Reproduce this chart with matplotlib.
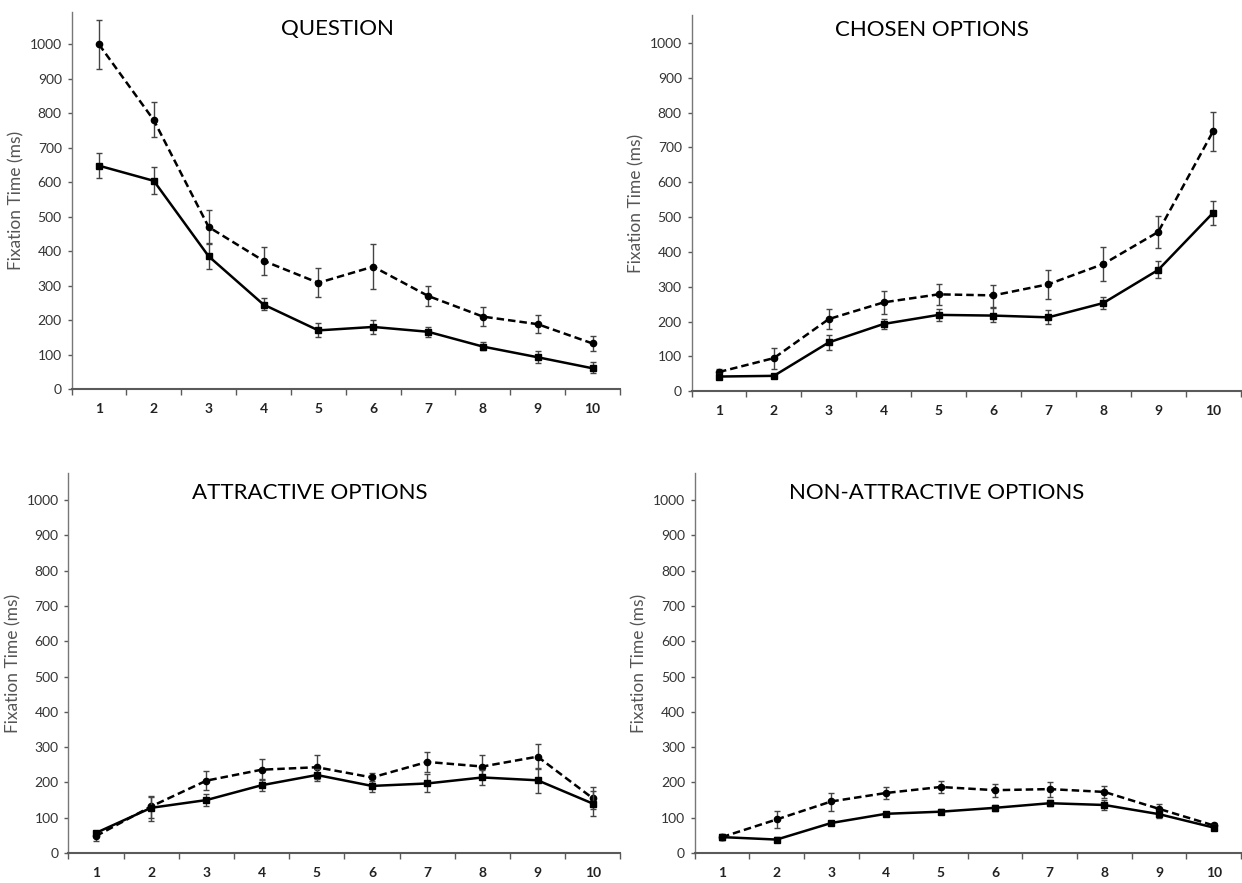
import numpy as np
import matplotlib
matplotlib.use("Agg")
import matplotlib.pyplot as plt

plt.rcParams['font.family'] = ['Lato', 'DejaVu Sans']

trials = np.arange(1, 11)
tick_labels = [str(t) for t in trials]

titles = ["QUESTION", "CHOSEN OPTIONS", "ATTRACTIVE OPTIONS", "NON-ATTRACTIVE OPTIONS"]

# dashed series (upper) and solid series, mean with lower/upper error bounds
question_dash = [1000, 780, 470, 372, 308, 355, 270, 210, 188, 132]
question_dash_lo = [930, 730, 422, 332, 268, 290, 240, 182, 162, 110]
question_dash_hi = [1070, 832, 518, 412, 350, 420, 300, 238, 215, 155]
question_solid = [648, 604, 385, 245, 170, 180, 166, 123, 92, 60]
question_solid_lo = [612, 565, 348, 228, 152, 160, 152, 112, 75, 45]
question_solid_hi = [685, 645, 425, 265, 190, 200, 180, 135, 110, 78]

chosen_dash = [55, 95, 207, 255, 278, 275, 307, 365, 457, 746]
chosen_dash_lo = [45, 65, 178, 222, 248, 242, 265, 315, 410, 690]
chosen_dash_hi = [65, 125, 237, 288, 308, 305, 347, 413, 503, 802]
chosen_solid = [42, 44, 140, 193, 219, 217, 212, 253, 348, 512]
chosen_solid_lo = [38, 40, 118, 178, 202, 198, 192, 236, 325, 478]
chosen_solid_hi = [48, 50, 160, 208, 236, 238, 232, 270, 375, 545]

attr_dash = [48, 132, 205, 236, 243, 214, 258, 245, 273, 155]
attr_dash_lo = [35, 100, 178, 208, 210, 198, 230, 215, 238, 125]
attr_dash_hi = [60, 162, 232, 265, 277, 228, 286, 277, 310, 188]
attr_solid = [57, 128, 150, 192, 221, 190, 197, 214, 206, 140]
attr_solid_lo = [50, 90, 132, 175, 205, 172, 173, 192, 170, 105]
attr_solid_hi = [62, 160, 168, 210, 237, 205, 225, 235, 242, 175]

nonattr_dash = [45, 95, 146, 170, 187, 178, 181, 173, 125, 78]
nonattr_dash_lo = [38, 72, 120, 152, 170, 160, 160, 155, 110, 70]
nonattr_dash_hi = [55, 120, 170, 188, 205, 195, 202, 190, 140, 86]
nonattr_solid = [45, 38, 85, 111, 117, 128, 141, 136, 110, 72]
nonattr_solid_lo = [38, 32, 78, 105, 110, 120, 133, 122, 100, 65]
nonattr_solid_hi = [52, 45, 92, 117, 124, 137, 149, 150, 120, 80]

panels = [
    (question_dash, question_dash_lo, question_dash_hi, question_solid, question_solid_lo, question_solid_hi),
    (chosen_dash, chosen_dash_lo, chosen_dash_hi, chosen_solid, chosen_solid_lo, chosen_solid_hi),
    (attr_dash, attr_dash_lo, attr_dash_hi, attr_solid, attr_solid_lo, attr_solid_hi),
    (nonattr_dash, nonattr_dash_lo, nonattr_dash_hi, nonattr_solid, nonattr_solid_lo, nonattr_solid_hi),
]

# axes rectangles [left, bottom, width, height] in figure fractions
rects = [
    [0.0576, 0.5595, 0.4416, 0.4265],
    [0.5568, 0.557, 0.4420, 0.426],
    [0.0551, 0.034, 0.4444, 0.430],
    [0.5593, 0.034, 0.4399, 0.430],
]
title_pos = [(0.484, 0.957), (0.438, 0.96), (0.438, 0.947), (0.442, 0.947)]
ytops = [1093, 1080, 1076, 1076]

fig = plt.figure(figsize=(12.42, 8.83), dpi=100)
axis_col = '#5a5a5a'

for i, (dm, dlo, dhi, sm, slo, shi) in enumerate(panels):
    ax = fig.add_axes(rects[i])
    dm, dlo, dhi = np.array(dm), np.array(dlo), np.array(dhi)
    sm, slo, shi = np.array(sm), np.array(slo), np.array(shi)

    ax.errorbar(trials, dm, yerr=[dm - dlo, dhi - dm], fmt='o', ls=(0, (3, 1.6)),
                color='black', lw=1.8, ms=4.5, ecolor='#444444', elinewidth=1.0,
                capsize=2.5, capthick=1.0, zorder=3)
    ax.errorbar(trials, sm, yerr=[sm - slo, shi - sm], fmt='s', ls='-',
                color='black', lw=1.8, ms=4.2, ecolor='#444444', elinewidth=1.0,
                capsize=2.5, capthick=1.0, zorder=4)

    ax.set_xlim(0.5, 10.5)
    ax.set_ylim(0, ytops[i])
    ax.set_yticks(np.arange(0, 1001, 100))
    ax.set_xticks(trials)
    ax.set_xticklabels(tick_labels, fontweight='bold', fontsize=10, color='#222222')
    ax.set_xticks(np.arange(0.5, 11, 1), minor=True)
    ax.tick_params(axis='x', which='major', length=0, pad=10)
    ax.tick_params(axis='x', which='minor', length=4, width=1, color=axis_col, direction='out')
    ax.tick_params(axis='y', length=3, width=1, color=axis_col, labelsize=10,
                   labelcolor='#333333', pad=4)

    for side in ['top', 'right']:
        ax.spines[side].set_visible(False)
    ax.spines['left'].set_color('#777777')
    ax.spines['bottom'].set_color(axis_col)
    ax.spines['bottom'].set_linewidth(1.5)
    ax.spines['left'].set_linewidth(1.0)

    ax.set_ylabel('Fixation Time (ms)', fontsize=12.5, color='#555555', labelpad=4)
    tx, ty = title_pos[i]
    ax.text(tx, ty, titles[i], transform=ax.transAxes, ha='center', va='center',
            fontsize=16, color='black')

fig.savefig('out.png', dpi=100)
